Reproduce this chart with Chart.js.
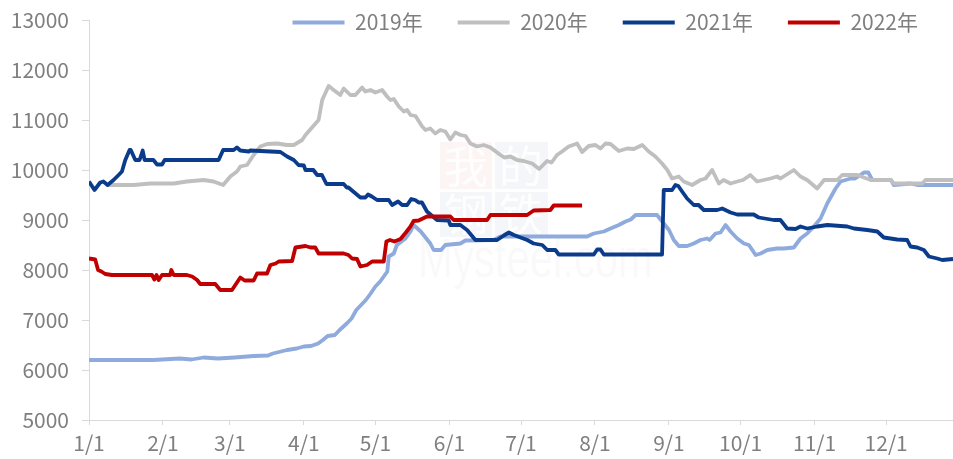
<!DOCTYPE html>
<html>
<head>
<meta charset="utf-8">
<script src="https://cdn.jsdelivr.net/npm/chart.js@4.4.1/dist/chart.umd.min.js"></script>
<style>
  html, body { margin: 0; padding: 0; background: #fff; }
  #chart { display: block; }
</style>
</head>
<body>
<canvas id="chart" width="953" height="459"></canvas>
<script>
// 横轴：一年中的第几天（1/1 = 0）
const monthDays = [0, 31, 59, 90, 120, 151, 181, 212, 243, 273, 304, 334];
const monthLabels = ['1/1', '2/1', '3/1', '4/1', '5/1', '6/1', '7/1', '8/1', '9/1', '10/1', '11/1', '12/1'];
const yTicks = [5000, 6000, 7000, 8000, 9000, 10000, 11000, 12000, 13000];

// 2019年
const days2019 = [0, 16, 27, 38, 43, 48, 54, 61, 69, 75, 77, 83, 87, 90, 93, 96, 98, 100, 103, 105, 108, 110, 112, 114, 116, 118, 120, 122, 123.5, 125, 125.6, 127.7, 129, 132.6, 134.7, 136, 139, 143, 144.4, 147.5, 149.3, 155.6, 157.7, 169.6, 172.4, 208.7, 211.5, 215.7, 218.5, 222, 224.8, 227, 229, 238, 240.8, 243, 245, 247.1, 250.6, 253.4, 256.2, 259, 260, 262.5, 264.6, 266.7, 268.8, 271.6, 274.4, 276.5, 279.3, 281.4, 284.2, 288.3, 291.1, 295.3, 298.1, 300.9, 303.7, 306.5, 309.3, 312.8, 314.9, 319.1, 321, 324.7, 326.5, 328.2, 336, 337.2, 344.2, 347, 362];
const price2019 = [6200, 6200, 6200, 6230, 6210, 6250, 6230, 6250, 6280, 6290, 6330, 6400, 6430, 6470, 6480, 6530, 6600, 6680, 6700, 6800, 6930, 7030, 7200, 7300, 7400, 7530, 7670, 7770, 7870, 7970, 8270, 8330, 8500, 8630, 8770, 8900, 8770, 8530, 8400, 8400, 8500, 8530, 8590, 8600, 8670, 8670, 8730, 8770, 8830, 8900, 8970, 9010, 9100, 9100, 8930, 8800, 8600, 8480, 8480, 8530, 8600, 8630, 8600, 8730, 8750, 8900, 8770, 8630, 8530, 8500, 8300, 8330, 8400, 8430, 8430, 8450, 8630, 8730, 8870, 9030, 9330, 9630, 9770, 9830, 9830, 9950, 9950, 9800, 9800, 9700, 9730, 9700, 9700];

// 2020年
const days2020 = [7, 18.7, 25.7, 35.5, 41, 48, 52.2, 56.2, 59.2, 62, 63.4, 66.2, 69, 71.8, 74.6, 78.8, 83, 85.8, 89.3, 90.7, 96.2, 97.7, 100.4, 102.5, 105.3, 106.7, 109.5, 111.6, 114.4, 115.8, 117.9, 120, 122.8, 124.9, 126.3, 127.7, 129.8, 131.9, 133.3, 134.7, 136.8, 139.6, 141, 143, 145.1, 147.2, 149.3, 151.4, 153.5, 155.7, 157.8, 159.8, 162.6, 165.4, 168.2, 172.4, 174, 176.6, 179.4, 182.1, 185.7, 188.6, 191.9, 193.8, 196.1, 198.2, 201, 204.5, 206.6, 209.4, 212.2, 214.3, 216.4, 218.5, 222, 225.5, 228.3, 231.8, 234.5, 237.3, 240.1, 242.3, 244.3, 247.1, 249.2, 252.7, 256.2, 258.3, 261.1, 263.9, 265.9, 268.8, 271.6, 274, 277.1, 279.9, 282.7, 285.5, 288.3, 289.7, 295.3, 298.1, 300.9, 305.1, 308, 313.5, 315.6, 321.9, 327.5, 335.9, 337.2, 349.1, 350.5, 362];
const price2020 = [9700, 9700, 9730, 9730, 9770, 9800, 9770, 9700, 9870, 9970, 10070, 10100, 10300, 10470, 10520, 10530, 10500, 10500, 10600, 10700, 11000, 11400, 11680, 11600, 11500, 11630, 11500, 11500, 11650, 11570, 11600, 11550, 11600, 11470, 11400, 11420, 11270, 11170, 11200, 11100, 11080, 10870, 10800, 10830, 10730, 10800, 10770, 10610, 10750, 10700, 10680, 10530, 10470, 10500, 10450, 10300, 10250, 10270, 10200, 10180, 10130, 10020, 10180, 10150, 10300, 10370, 10470, 10530, 10360, 10480, 10500, 10430, 10530, 10520, 10380, 10430, 10420, 10500, 10370, 10270, 10130, 10000, 9830, 9870, 9770, 9700, 9800, 9830, 10000, 9730, 9800, 9730, 9770, 9800, 9900, 9770, 9800, 9830, 9870, 9830, 10000, 9870, 9800, 9630, 9800, 9800, 9900, 9900, 9800, 9800, 9730, 9730, 9800, 9800];

// 2021年
const days2021 = [0, 2.3, 4.7, 6, 7.8, 10.3, 12.4, 13.8, 15.2, 17, 17.5, 19.4, 21.2, 22.5, 23.3, 27, 28.5, 30.6, 31.7, 54.3, 56.2, 60.6, 62, 63.4, 66.9, 67.6, 80.2, 83, 85.8, 87.8, 90, 90.7, 94, 95.6, 97.6, 99.5, 106.7, 108, 108.7, 113.7, 115.8, 116.9, 118.5, 120.7, 125.6, 127, 129.5, 131.2, 133.3, 135, 136.7, 138.1, 139.5, 141.6, 143.8, 145.8, 150.7, 151.4, 155.6, 158.4, 161.9, 171, 173.8, 175.9, 178, 180.8, 183.6, 186.3, 189.9, 192, 195.4, 196.8, 211.5, 212.9, 214.3, 215.7, 240.1, 240.8, 244.3, 245.7, 246.9, 248.5, 250.6, 253.4, 255.4, 257.6, 263.2, 265.3, 268.8, 271.6, 278.5, 280.6, 286.9, 289.7, 292.5, 296, 298.1, 300.9, 305.1, 309.3, 317.7, 320.5, 326.1, 330.3, 333, 338.6, 342.8, 344.2, 347, 349.8, 351.9, 355.4, 357.5, 362];
const price2021 = [9770, 9600, 9750, 9770, 9700, 9800, 9900, 9970, 10200, 10400, 10400, 10200, 10200, 10390, 10200, 10200, 10110, 10110, 10200, 10200, 10400, 10400, 10450, 10390, 10370, 10390, 10360, 10270, 10200, 10100, 10090, 10000, 10000, 9900, 9900, 9720, 9720, 9650, 9650, 9450, 9450, 9510, 9470, 9400, 9400, 9300, 9370, 9300, 9300, 9420, 9400, 9350, 9350, 9170, 9080, 9000, 8990, 8900, 8900, 8800, 8600, 8600, 8690, 8750, 8700, 8650, 8600, 8530, 8500, 8400, 8400, 8310, 8310, 8410, 8410, 8310, 8310, 9600, 9600, 9700, 9680, 9570, 9430, 9300, 9300, 9200, 9200, 9230, 9150, 9110, 9110, 9050, 9000, 9000, 8830, 8820, 8870, 8830, 8870, 8900, 8870, 8830, 8800, 8770, 8650, 8610, 8600, 8470, 8450, 8400, 8270, 8230, 8200, 8220];

// 2022年
const days2022 = [0, 2.6, 3.8, 5.2, 6.8, 9.6, 26.4, 27.4, 28.3, 29.2, 30.6, 34, 34.5, 35.5, 41, 43.2, 45.3, 46.6, 52.9, 55, 59.9, 61.3, 63.4, 65.2, 69, 70.4, 74.6, 76, 78.2, 79.5, 85.1, 86.5, 90.7, 92.8, 94.8, 96.2, 106.7, 108.7, 110.2, 112.3, 113.7, 116.5, 118.6, 123.5, 124.6, 126.1, 128, 130.5, 132.6, 134.7, 136, 138.1, 141.6, 151.4, 152.8, 166.8, 168.2, 183.6, 186.3, 193.3, 194.7, 206.6];
const price2022 = [8230, 8210, 8000, 7970, 7920, 7900, 7900, 7810, 7900, 7800, 7900, 7900, 8000, 7900, 7900, 7870, 7800, 7720, 7720, 7600, 7600, 7700, 7850, 7790, 7790, 7930, 7930, 8100, 8130, 8170, 8180, 8450, 8480, 8450, 8450, 8330, 8330, 8300, 8230, 8220, 8070, 8100, 8170, 8170, 8570, 8600, 8570, 8620, 8740, 8870, 8980, 8990, 9070, 9070, 9000, 9000, 9100, 9100, 9190, 9200, 9290, 9290];

const toPoints = (xs, ys) => xs.map((x, i) => ({ x: x, y: ys[i] }));

const axisGray = '#D9D9D9';
const textGray = '#7F7F7F';
const fontFamily = '"Noto Sans CJK SC", "Noto Sans", sans-serif';
const tickFont = { family: fontFamily, size: 21 };

// 背景水印
const watermark = {
  id: 'watermark',
  beforeDatasetsDraw(chart) {
    const ctx = chart.ctx;
    ctx.save();
    ctx.fillStyle = 'rgba(220,60,60,0.06)';
    ctx.fillRect(440, 142, 52, 47);
    ctx.fillStyle = 'rgba(60,80,150,0.05)';
    ctx.fillRect(495, 142, 53, 47);
    ctx.fillRect(440, 192, 52, 45);
    ctx.fillRect(495, 192, 53, 45);
    ctx.fillStyle = 'rgba(255,255,255,0.9)';
    ctx.font = '44px "Noto Sans CJK SC"';
    ctx.textAlign = 'center';
    ctx.textBaseline = 'middle';
    ctx.fillText('我', 466, 166);
    ctx.fillText('的', 521, 166);
    ctx.fillText('钢', 466, 214);
    ctx.fillText('铁', 521, 214);
    ctx.font = '56px "Liberation Sans"';
    ctx.textAlign = 'left';
    ctx.textBaseline = 'alphabetic';
    const w = ctx.measureText('Mysteel.com').width;
    ctx.translate(418, 277);
    ctx.scale(235 / w, 1);
    ctx.fillStyle = 'rgba(0,0,0,0.025)';
    ctx.fillText('Mysteel.com', 0, 0);
    ctx.restore();
  }
};

// 图例与绘图区重叠，放开图例的裁剪范围
const legendRoom = {
  id: 'legendRoom',
  afterLayout(chart) {
    if (chart.legend) chart.legend.bottom = chart.legend.top + 80;
  }
};

const series = [
  { label: '2019年', data: toPoints(days2019, price2019), color: '#8FAADC', order: 4 },
  { label: '2020年', data: toPoints(days2020, price2020), color: '#BFBFBF', order: 3 },
  { label: '2021年', data: toPoints(days2021, price2021), color: '#0B3C8C', order: 2 },
  { label: '2022年', data: toPoints(days2022, price2022), color: '#C00000', order: 1 },
];

new Chart(document.getElementById('chart').getContext('2d'), {
  type: 'line',
  data: {
    datasets: series.map(s => ({
      label: s.label,
      data: s.data,
      borderColor: s.color,
      backgroundColor: s.color,
      borderWidth: 3.8,
      pointRadius: 0,
      tension: 0,
      borderJoinStyle: 'round',
      order: s.order,
    })),
  },
  options: {
    responsive: false,
    devicePixelRatio: 1,
    animation: false,
    layout: { padding: { top: -23, left: 0, right: 0, bottom: 0 } },
    scales: {
      x: {
        type: 'linear',
        min: 0,
        max: 362,
        afterBuildTicks: axis => {
          axis.ticks = monthDays.map(v => ({ value: v }));
        },
        afterFit: axis => {
          axis.height = 39;
        },
        ticks: {
          callback: v => monthLabels[monthDays.indexOf(v)],
          autoSkip: false,
          maxRotation: 0,
          color: textGray,
          font: tickFont,
          padding: 5,
        },
        grid: { drawOnChartArea: false, drawTicks: true, tickLength: 5, color: axisGray },
        border: { color: axisGray, width: 1 },
      },
      y: {
        min: 5000,
        max: 13000,
        afterBuildTicks: axis => {
          axis.ticks = yTicks.map(v => ({ value: v }));
        },
        afterFit: axis => {
          axis.width = 89;
        },
        ticks: {
          callback: v => String(v),
          color: textGray,
          font: { family: fontFamily, size: 21, lineHeight: 0.6 },
          padding: 13,
        },
        grid: { drawOnChartArea: false, drawTicks: true, tickLength: 7, color: axisGray },
        border: { color: axisGray, width: 1 },
      },
    },
    plugins: {
      tooltip: { enabled: false },
      legend: {
        position: 'top',
        align: 'end',
        maxHeight: 43,
        labels: {
          usePointStyle: true,
          pointStyle: 'line',
          pointStyleWidth: 52,
          padding: 35,
          color: textGray,
          font: tickFont,
          sort: (a, b) => a.datasetIndex - b.datasetIndex,
          generateLabels: chart =>
            Chart.defaults.plugins.legend.labels
              .generateLabels(chart)
              .map(l => Object.assign(l, { lineWidth: 4 })),
        },
      },
    },
  },
  plugins: [watermark, legendRoom],
});
</script>
</body>
</html>
